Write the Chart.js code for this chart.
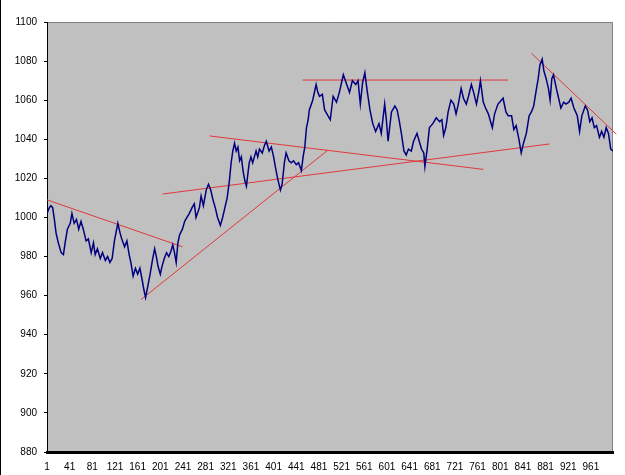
<!DOCTYPE html>
<html>
<head>
<meta charset="utf-8">
<script src="https://cdn.jsdelivr.net/npm/chart.js@4.4.1/dist/chart.umd.min.js"></script>
<style>
  html, body { margin: 0; padding: 0; background: #fff; }
  canvas { display: block; }
</style>
</head>
<body>
<canvas id="chart" width="625" height="475"></canvas>
<script>
'use strict';

/* DATA (day index, price) */
const days = [
  1, 5, 8, 11, 14, 17, 21, 26, 30, 33,
  37, 42, 45, 49, 53, 57, 61, 65, 70, 74,
  79, 83, 86, 90, 95, 99, 104, 108, 112, 116,
  120, 124, 126, 130, 133, 138, 142, 146, 149, 153,
  157, 161, 165, 169, 172, 175, 179, 183, 187, 191,
  194, 197, 201, 204, 208, 212, 216, 220, 223, 226,
  229, 232, 235, 240, 244, 248, 252, 257, 261, 264,
  270, 273, 277, 282, 286, 290, 294, 298, 302, 307,
  311, 315, 319, 323, 326, 329, 332, 335, 338, 341,
  344, 347, 350, 353, 355, 358, 361, 364, 367, 370,
  373, 376, 381, 385, 388, 393, 397, 401, 404, 408,
  413, 416, 420, 423, 428, 432, 436, 441, 445, 450,
  453, 456, 459, 462, 464, 470, 476, 479, 482, 487,
  491, 497, 501, 506, 512, 517, 524, 530, 535, 540,
  546, 550, 554, 558, 562, 566, 571, 576, 581, 587,
  591, 597, 600, 603, 609, 615, 619, 623, 627, 631,
  635, 639, 644, 648, 654, 658, 662, 666, 668, 672,
  676, 682, 688, 694, 698, 701, 705, 709, 714, 719,
  723, 727, 732, 736, 741, 745, 750, 754, 759, 763,
  766, 771, 775, 780, 784, 787, 791, 797, 803, 806,
  811, 815, 821, 825, 829, 834, 838, 842, 847, 852,
  856, 860, 865, 868, 871, 875, 878, 882, 886, 889,
  892, 895, 900, 904, 908, 913, 917, 922, 926, 931,
  937, 941, 945, 951, 955, 959, 963, 967, 971, 976,
  980, 984, 988, 992, 996, 1000
];

const prices = [
  1002, 1005, 1006, 1005, 999, 992, 987, 982, 981, 987,
  994, 997, 1002, 997, 999, 994, 998, 994, 988, 989,
  982, 987, 981, 984, 979, 982, 978, 980, 977, 979,
  988, 994, 997, 992, 989, 985, 988, 981, 977, 970,
  974, 971, 974, 968, 963, 959, 965, 971, 978, 984,
  980, 975, 971, 975, 979, 982, 980, 983, 986, 982,
  977, 987, 991, 994, 998, 1000, 1002, 1005, 1007, 1000,
  1005, 1011, 1006, 1014, 1017, 1014, 1009, 1005, 1000, 996,
  1000, 1005, 1010, 1019, 1028, 1034, 1038, 1034, 1036, 1029,
  1031, 1024, 1019, 1016, 1021, 1028, 1031, 1028, 1031, 1034,
  1031, 1035, 1033, 1037, 1039, 1034, 1036, 1031, 1026, 1020,
  1014, 1017, 1028, 1033, 1029, 1028, 1029, 1027, 1028, 1024,
  1031, 1036, 1046, 1050, 1055, 1060, 1068, 1064, 1062, 1063,
  1055, 1052, 1050, 1062, 1059, 1064, 1073, 1068, 1064, 1070,
  1068, 1070, 1058, 1069, 1074, 1065, 1055, 1048, 1044, 1048,
  1043, 1058, 1050, 1039, 1054, 1057, 1055, 1049, 1042, 1034,
  1032, 1035, 1034, 1039, 1043, 1039, 1035, 1033, 1026, 1035,
  1046, 1048, 1051, 1049, 1050, 1042, 1046, 1054, 1060, 1058,
  1053, 1058, 1066, 1061, 1058, 1062, 1068, 1064, 1058, 1064,
  1070, 1059, 1056, 1053, 1049, 1046, 1053, 1058, 1060, 1061,
  1054, 1052, 1052, 1045, 1047, 1040, 1033, 1038, 1043, 1052,
  1054, 1057, 1066, 1071, 1078, 1081, 1075, 1071, 1066, 1060,
  1071, 1073, 1066, 1061, 1056, 1059, 1058, 1059, 1061, 1056,
  1052, 1044, 1052, 1057, 1055, 1049, 1051, 1046, 1047, 1041,
  1044, 1041, 1046, 1043, 1035, 1034
];

/* TREND LINES: [fromDay, fromPrice, toDay, toPrice] */
const trendLines = [
  [1, 1009, 240, 985],
  [167, 958, 497, 1034.5],
  [205, 1012, 888, 1037.6],
  [288, 1041.7, 771, 1024.6],
  [452, 1070.3, 815, 1070.3],
  [856, 1084, 1006, 1042.6]
];

const xTickLabels = [1, 41, 81, 121, 161, 201, 241, 281, 321, 361, 401, 441, 481,
  521, 561, 601, 641, 681, 721, 761, 801, 841, 881, 921, 961];
const yMin = 880;
const yMax = 1100;
const yStep = 20;

/* DATASETS */
const priceSeries = days.map((d, i) => ({ x: d, y: prices[i] }));

const datasets = [{
  data: priceSeries,
  borderColor: '#000080',
  borderWidth: 1.5,
  pointRadius: 0,
  tension: 0
}];

trendLines.forEach(t => {
  datasets.push({
    data: [{ x: t[0], y: t[1] }, { x: t[2], y: t[3] }],
    borderColor: '#e0393b',
    borderWidth: 1,
    pointRadius: 0,
    clip: false
  });
});

/* PLOT AREA BACKGROUND PLUGIN */
const plotBackground = {
  id: 'plotBackground',
  beforeDraw(chart) {
    const { ctx, chartArea: a } = chart;
    ctx.save();
    ctx.fillStyle = '#ffffff';
    ctx.fillRect(0, 0, chart.width, chart.height);
    ctx.fillStyle = '#c0c0c0';
    ctx.fillRect(a.left, a.top, a.right - a.left, a.bottom - a.top);
    ctx.strokeStyle = '#808080';
    ctx.lineWidth = 1;
    ctx.beginPath();
    ctx.moveTo(a.left, a.top + 0.5);
    ctx.lineTo(a.right - 0.5, a.top + 0.5);
    ctx.lineTo(a.right - 0.5, a.bottom);
    ctx.stroke();
    // black frame edge on the left of the picture
    ctx.fillStyle = '#000';
    ctx.fillRect(0, 0, 1, chart.height);
    ctx.restore();
  }
};

const tickFont = { family: 'Liberation Sans', size: 10 };

new Chart(document.getElementById('chart'), {
  type: 'line',
  data: { datasets: datasets },
  plugins: [plotBackground],
  options: {
    responsive: false,
    animation: false,
    devicePixelRatio: 1,
    layout: { padding: { top: 22, right: 12, left: 0, bottom: 0 } },
    plugins: {
      legend: { display: false },
      tooltip: { enabled: false }
    },
    scales: {
      x: {
        type: 'linear',
        min: 1,
        max: 1000,
        afterBuildTicks: axis => {
          axis.ticks = xTickLabels.map(v => ({ value: v }));
        },
        afterFit: axis => { axis.height = 23; },
        grid: { display: false, drawTicks: false },
        border: { display: true, color: '#000', width: 3 },
        ticks: {
          color: '#000',
          font: tickFont,
          padding: 9,
          autoSkip: false,
          maxRotation: 0,
          callback: v => String(v)
        }
      },
      y: {
        min: yMin,
        max: yMax,
        afterFit: axis => { axis.width = 47; },
        grid: { drawOnChartArea: false, tickLength: 3, color: '#000' },
        border: { display: true, color: '#000', width: 1 },
        ticks: {
          stepSize: yStep,
          color: '#000',
          font: tickFont,
          padding: 7,
          callback: v => String(v)
        }
      }
    }
  }
});
</script>
</body>
</html>
